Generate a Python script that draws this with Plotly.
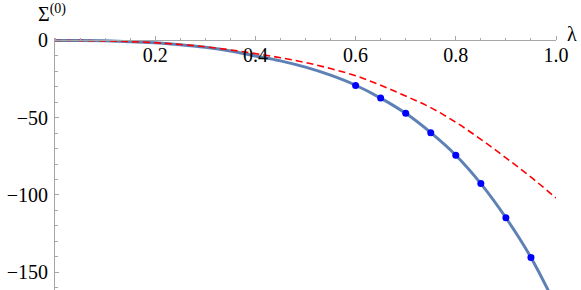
import plotly.graph_objects as go

# ---- data ----
lam_grid = [0.0, 0.05, 0.1, 0.15, 0.2, 0.25, 0.3, 0.35, 0.4, 0.45, 0.5,
            0.55, 0.6, 0.65, 0.7, 0.75, 0.8, 0.85, 0.9, 0.95, 1.0]
sigma_full = [0.0, -0.05, -0.25, -0.75, -1.55, -2.75, -4.45, -6.8, -10.0, -13.2, -17.3,
              -22.5, -29.0, -37.3, -47.2, -59.7, -74.3, -92.7, -114.8, -140.5, -172.0]
sigma_approx = [0.0, -0.05, -0.25, -0.75, -1.5, -2.6, -4.1, -6.1, -8.5, -11.2, -14.3,
                -18.2, -22.8, -29.0, -36.0, -43.5, -53.0, -64.0, -76.0, -88.5, -102.0]
lam_pts = [0.6, 0.65, 0.7, 0.75, 0.8, 0.85, 0.9, 0.95]
sigma_pts = [-29.1, -37.3, -47.2, -59.7, -74.3, -92.7, -114.8, -140.5]

x_ticks = [0.2, 0.4, 0.6, 0.8, 1.0]
x_ticktext = ["0.2", "0.4", "0.6", "0.8", "1.0"]
y_ticks = [0, -50, -100, -150]
y_ticktext = ["0", "\u221250", "\u2212100", "\u2212150"]

FONT = "Liberation Serif, Times New Roman, Tinos, DejaVu Serif, serif"
FS = 20
AX = "#a6a6a6"

fig = go.Figure()
fig.add_trace(go.Scatter(x=lam_grid, y=sigma_full, mode="lines",
                         line=dict(color="#5E81B5", width=3, shape="spline"),
                         hoverinfo="skip"))
fig.add_trace(go.Scatter(x=lam_grid, y=sigma_approx, mode="lines",
                         line=dict(color="#FF0000", width=1.6, dash="7px,4px", shape="spline"),
                         hoverinfo="skip"))
fig.add_trace(go.Scatter(x=lam_pts, y=sigma_pts, mode="markers",
                         marker=dict(color="#0000FF", size=7),
                         hoverinfo="skip"))

ymin, ymax = -161.6, 1.6
zero_pos = (0 - ymin) / (ymax - ymin)

fig.update_layout(
    width=581, height=290,
    margin=dict(l=55, r=25, t=38, b=0, pad=0),
    paper_bgcolor="white", plot_bgcolor="white",
    showlegend=False,
    font=dict(family=FONT, size=FS, color="black"),
    xaxis=dict(range=[0, 1.0], anchor="free", position=zero_pos, side="top",
               showgrid=False, zeroline=False, showline=True, linecolor=AX, linewidth=1,
               tickvals=x_ticks, ticktext=x_ticktext, ticks="outside", ticklen=4,
               tickcolor=AX, ticklabelposition="inside", ticklabelstandoff=8,
               ticklabeloverflow="allow",
               minor=dict(dtick=0.05, tick0=0, ticks="outside", ticklen=2.5, tickcolor=AX),
               tickfont=dict(family=FONT, size=FS, color="black")),
    yaxis=dict(range=[ymin, ymax], showgrid=False, zeroline=False,
               showline=True, linecolor=AX, linewidth=1,
               tickvals=y_ticks, ticktext=y_ticktext, ticks="inside", ticklen=4,
               tickcolor=AX, ticklabelstandoff=2, ticklabeloverflow="allow",
               minor=dict(dtick=10, tick0=0, ticks="inside", ticklen=2.5, tickcolor=AX),
               tickfont=dict(family=FONT, size=FS, color="black")),
    annotations=[
        dict(text="\u03a3<sup>(0)</sup>", xref="paper", yref="paper",
             x=(36 - 55) / 501, y=(290 - 13) / 252, xanchor="left", yanchor="middle",
             showarrow=False, font=dict(family=FONT, size=FS, color="black")),
        dict(text="\u03bb", xref="paper", yref="paper",
             x=(572 - 55) / 501, y=(290 - 34) / 252, xanchor="center", yanchor="middle",
             showarrow=False, font=dict(family=FONT, size=FS, color="black")),
    ],
)

fig.write_html(
    "out.html",
    config={"displayModeBar": False, "staticPlot": True},
    post_script="document.body.style.margin='0';document.body.style.padding='0';"
                "document.documentElement.style.overflow='hidden';",
)
